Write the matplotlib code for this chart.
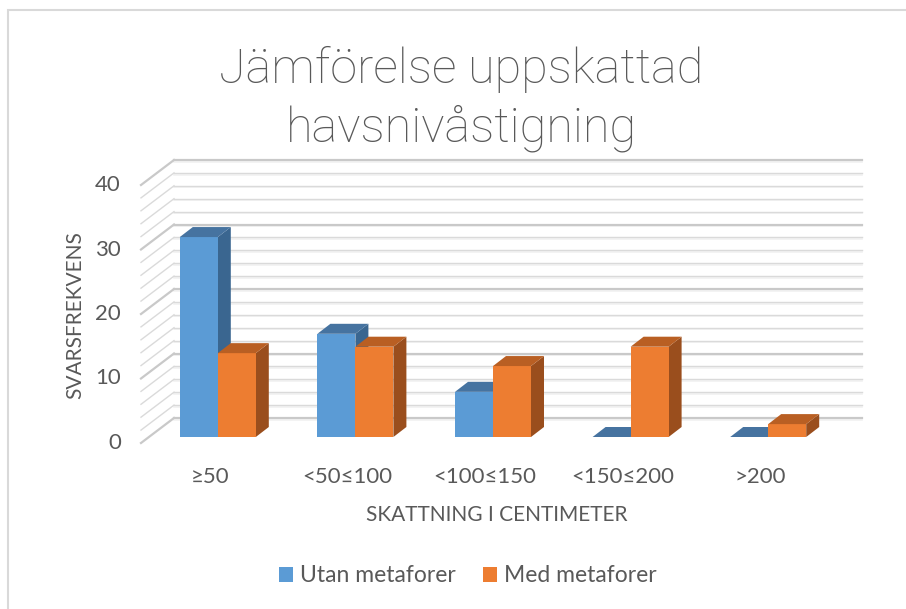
import matplotlib.pyplot as plt
from matplotlib.patches import Polygon, Rectangle

categories = ["≥50", "<50≤100", "<100≤150", "<150≤200", ">200"]
utan = [31, 16, 7, 0, 0]
med = [13, 14, 11, 14, 2]
series_names = ["Utan metaforer", "Med metaforer"]
yticks = [0, 10, 20, 30, 40]

W, H = 906, 609
fig = plt.figure(figsize=(W / 100, H / 100), dpi=100)
plt.rcParams['font.family'] = ['Lato', 'DejaVu Sans']
grey = '#595959'

# front plane of the floor: x -0.5..4.5, y 0..40
ax = fig.add_axes([141 / W, 166 / H, 688 / W, 258 / H])
ax.set_xlim(-0.5, 4.5)
ax.set_ylim(0, 40)
ax.axis('off')

pxx = 688 / 5.0   # pixels per category
pxy = 258 / 40.0  # pixels per unit


def off(dx, dy):
    return dx / pxx, dy / pxy


# walls: back wall and left side wall
wdx, wdy = off(33, 25)
for v in range(0, 41, 2):
    major = v % 10 == 0
    c = '#c9c9c9' if major else '#dadada'
    lw = 1.6 if major else 1.0
    ax.plot([-0.5 + wdx, 4.5 + wdx], [v + wdy, v + wdy], color=c, lw=lw,
            clip_on=False, zorder=1)
    ax.plot([-0.5 + wdx, 4.5 + wdx], [v + wdy - 0.25, v + wdy - 0.25],
            color='#f1f1f1', lw=1.2, clip_on=False, zorder=0.9)
    ax.plot([-0.5, -0.5 + wdx], [v, v + wdy], color=c, lw=lw,
            clip_on=False, zorder=1)

# bars sit a little behind the front plane
bdx, bdy = off(8, 6)
ddx, ddy = off(13, 10)
bw = 38 / pxx
colors = [('#5b9bd5', '#4673a0', '#3a6690'),
          ('#ed7d31', '#b95f23', '#9a4e1d')]


def bar3d(x0, h, cols):
    front, top, side = cols
    xl, xr = x0 + bdx, x0 + bw + bdx
    y0, y1 = bdy, h + bdy
    if h > 0:
        ax.add_patch(Polygon([(xr, y0), (xr + ddx, y0 + ddy), (xr + ddx, y1 + ddy), (xr, y1)],
                             closed=True, facecolor=side, edgecolor='none', zorder=3, clip_on=False))
        ax.add_patch(Rectangle((xl, y0), bw, h, facecolor=front, edgecolor='none',
                               zorder=3, clip_on=False))
    ax.add_patch(Polygon([(xl, y1), (xr, y1), (xr + ddx, y1 + ddy), (xl + ddx, y1 + ddy)],
                         closed=True, facecolor=top, edgecolor='none', zorder=3, clip_on=False))


for i in range(len(categories)):
    bar3d(i - bw, utan[i], colors[0])
    bar3d(i, med[i], colors[1])

for v in yticks:
    ax.text(-0.5 - 20 / pxx, v, str(v), ha='right', va='center', fontsize=16, color=grey)
for i, c in enumerate(categories):
    ax.text(i, -34 / pxy, c, ha='center', va='center', fontsize=16, color=grey)

fig.text(497 / W, 1 - 515 / H, "SKATTNING I CENTIMETER", ha='center', va='center',
         fontsize=15, color=grey)
fig.text(75 / W, 1 - 315 / H, "SVARSFREKVENS", ha='center', va='center',
         rotation=90, fontsize=15, color=grey)
fig.text(461 / W, 1 - 99 / H, "Jämförelse uppskattad\nhavsnivåstigning", ha='center',
         va='center', fontsize=35, color=grey, linespacing=1.3,
         family=['Roboto', 'Lato', 'DejaVu Sans'], fontweight='light')

# legend
handles = [Rectangle((0, 0), 1, 1, facecolor=colors[k][0]) for k in range(2)]
fig.legend(handles, series_names, loc='center', bbox_to_anchor=(468 / W, 1 - 576 / H),
           ncol=2, frameon=False, fontsize=16.5, labelcolor=grey, handlelength=0.6,
           handleheight=0.6, handletextpad=0.3, columnspacing=1.2)

# chart border
fig.patches.append(Rectangle((8 / W, -0.1), 1.2, 1 - 10 / H + 0.1, transform=fig.transFigure,
                             fill=False, edgecolor='#d9d9d9', lw=1.5))

fig.savefig('out.png', dpi=100)
